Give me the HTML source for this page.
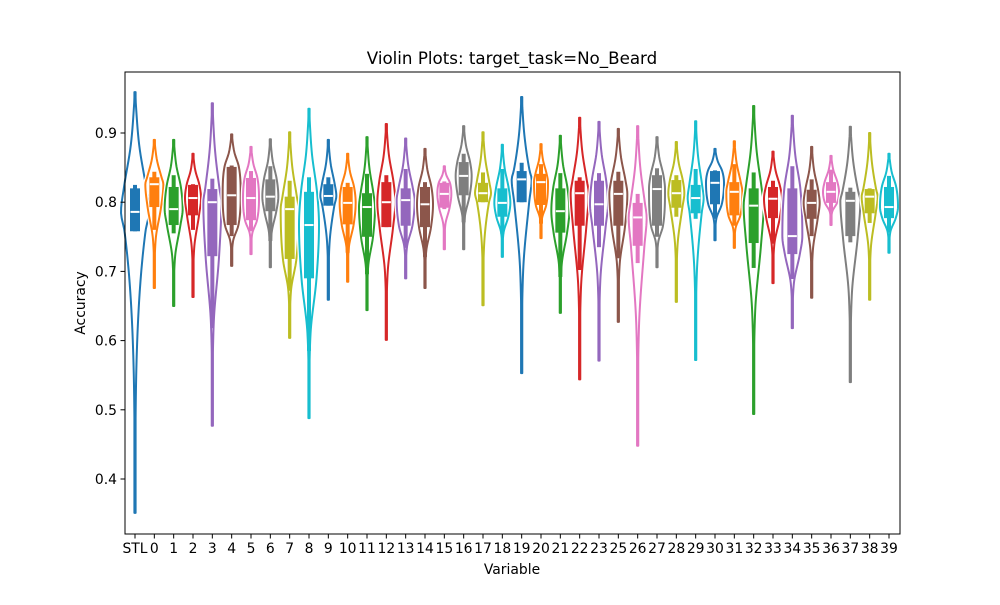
<!DOCTYPE html>
<html><head><meta charset="utf-8"><style>
body{margin:0;background:#fff}
svg text{font-family:"DejaVu Sans","Liberation Sans",sans-serif;fill:#000}
</style></head><body>
<svg id="chart" width="1000" height="600" viewBox="0 0 1000 600" xmlns="http://www.w3.org/2000/svg">
<rect width="1000" height="600" fill="#fff"/>
<text x="512" y="64" font-size="16.7" text-anchor="middle">Violin Plots: target_task=No_Beard</text>
<text x="512" y="574" font-size="13.9" text-anchor="middle">Variable</text>
<text transform="translate(85,303) rotate(-90)" font-size="13.9" text-anchor="middle">Accuracy</text>
<g id="marks"></g>
<rect x="125" y="72" width="775" height="462" fill="none" stroke="#000" stroke-width="1"/>
<g id="axes"></g>
</svg>
<script>
const categories=["STL","0","1","2","3","4","5","6","7","8","9","10","11","12","13","14","15","16","17","18","19","20","21","22","23","25","26","27","28","29","30","31","32","33","34","35","36","37","38","39"];
const maxVals=[0.959,0.89,0.89,0.87,0.943,0.898,0.88,0.891,0.901,0.935,0.89,0.87,0.894,0.913,0.892,0.877,0.852,0.91,0.901,0.883,0.952,0.884,0.896,0.922,0.916,0.906,0.91,0.894,0.887,0.917,0.877,0.888,0.939,0.873,0.925,0.88,0.867,0.909,0.9,0.87];
const minVals=[0.351,0.676,0.65,0.663,0.477,0.708,0.725,0.706,0.604,0.488,0.659,0.685,0.644,0.601,0.69,0.676,0.732,0.732,0.651,0.721,0.553,0.748,0.64,0.544,0.571,0.627,0.448,0.706,0.656,0.572,0.745,0.734,0.494,0.683,0.618,0.662,0.767,0.54,0.659,0.727];
const q3Vals=[0.820,0.836,0.822,0.825,0.819,0.851,0.835,0.833,0.808,0.815,0.826,0.822,0.813,0.829,0.82,0.822,0.828,0.858,0.828,0.82,0.845,0.841,0.82,0.831,0.831,0.831,0.799,0.839,0.832,0.825,0.845,0.829,0.82,0.822,0.82,0.818,0.829,0.815,0.819,0.822];
const medVals=[0.786,0.826,0.79,0.806,0.80,0.81,0.806,0.808,0.79,0.767,0.809,0.799,0.793,0.80,0.803,0.797,0.812,0.838,0.813,0.799,0.833,0.829,0.787,0.813,0.797,0.812,0.778,0.819,0.813,0.806,0.828,0.815,0.795,0.805,0.751,0.799,0.815,0.802,0.808,0.793];
const q1Vals=[0.758,0.793,0.767,0.781,0.722,0.767,0.774,0.787,0.718,0.69,0.795,0.768,0.75,0.764,0.766,0.764,0.792,0.81,0.80,0.779,0.80,0.796,0.756,0.766,0.766,0.766,0.737,0.766,0.792,0.784,0.797,0.781,0.741,0.777,0.725,0.776,0.799,0.751,0.784,0.777];
const whiskHi=[0.825,0.844,0.839,0.826,0.834,0.853,0.845,0.852,0.831,0.836,0.836,0.828,0.841,0.839,0.848,0.829,0.83,0.87,0.843,0.848,0.857,0.855,0.842,0.836,0.842,0.844,0.812,0.849,0.839,0.848,0.846,0.855,0.843,0.831,0.852,0.833,0.847,0.821,0.82,0.838];
const whiskLo=[0.758,0.76,0.755,0.76,0.618,0.751,0.758,0.744,0.672,0.585,0.795,0.727,0.696,0.764,0.734,0.721,0.79,0.771,0.80,0.754,0.80,0.769,0.692,0.702,0.735,0.719,0.712,0.75,0.779,0.776,0.776,0.766,0.705,0.74,0.689,0.751,0.786,0.742,0.77,0.756];
const halfWidths=[14,9,9,8,9,9,8,8,9,10,8,8,8,9,9,8,7,8,8,8,10,7,9,9,9,9,9,8,8,8,9,8,10,9,10,8,8,10,8,9];
const yTicks=[0.4,0.5,0.6,0.7,0.8,0.9];
const colors=["#1f77b4","#ff7f0e","#2ca02c","#d62728","#9467bd","#8c564b","#e377c2","#7f7f7f","#bcbd22","#17becf"];
const NS="http://www.w3.org/2000/svg";
function yS(v){return 133+(0.9-v)*692;}
function xS(i){return 135+i*(889-135)/(categories.length-1);}
function mk(tag,attrs,parent){const e=document.createElementNS(NS,tag);for(const k in attrs)e.setAttribute(k,attrs[k]);parent.appendChild(e);return e;}
function monotone(xs,ys){
  const n=xs.length,d=[],m=new Array(n).fill(0);
  for(let i=0;i<n-1;i++)d.push((ys[i+1]-ys[i])/(xs[i+1]-xs[i]));
  m[0]=d[0];m[n-1]=d[n-2];
  for(let i=1;i<n-1;i++){m[i]=(d[i-1]*d[i]<=0)?0:(d[i-1]+d[i])/2;}
  for(let i=0;i<n-1;i++){if(d[i]===0){m[i]=0;m[i+1]=0;continue;}const a=m[i]/d[i],b=m[i+1]/d[i],s=a*a+b*b;if(s>9){const t=3/Math.sqrt(s);m[i]=t*a*d[i];m[i+1]=t*b*d[i];}}
  return x=>{let i=0;while(i<n-2&&x>xs[i+1])i++;const h=xs[i+1]-xs[i],t=(x-xs[i])/h,t2=t*t,t3=t2*t;
    return (2*t3-3*t2+1)*ys[i]+(t3-2*t2+t)*h*m[i]+(-2*t3+3*t2)*ys[i+1]+(t3-t2)*h*m[i+1];};
}
const marks=document.getElementById('marks'),axes=document.getElementById('axes');
categories.forEach((c,i)=>{
  const col=colors[i%10],cx=xS(i),w=halfWidths[i];
  const mn=minVals[i],mx=maxVals[i],q1=q1Vals[i],q3=q3Vals[i],md=medVals[i];
  const kv=[mn,q1-(q1-mn)*0.4,q1,md,q3,q3+(mx-q3)*0.45,mx];
  const kw=[0,0.15*w,0.75*w,w,0.8*w,0.3*w,0];
  const xs=[],ys=[];
  kv.forEach((v,j)=>{if(!xs.length||v-xs[xs.length-1]>0.002){xs.push(v);ys.push(kw[j]);}});
  const f=monotone(xs,ys);
  const pts=[];const N=80;
  for(let s=0;s<=N;s++){const v=mn+(mx-mn)*s/N;pts.push([v,Math.max(0.6,f(v))]);}
  let d='';pts.forEach((p,j)=>{d+=(j?'L':'M')+(cx+p[1]).toFixed(2)+','+yS(p[0]).toFixed(2);});
  for(let j=pts.length-1;j>=0;j--){d+='L'+(cx-pts[j][1]).toFixed(2)+','+yS(pts[j][0]).toFixed(2);}
  d+='Z';
  const g=mk('g',{},marks);
  
  
  mk('path',{d:d,fill:'none',stroke:'#fff','stroke-width':4.5,'stroke-linejoin':'round'},g);
  const outline=mk('path',{d:d,fill:'none',stroke:col,'stroke-width':2,'stroke-linejoin':'round'},g);
  
  
  const wh=mk('rect',{x:cx-2,y:yS(whiskHi[i]),width:4,height:Math.max(0,yS(whiskLo[i])-yS(whiskHi[i])),fill:col},g);
  
  
  const bx=mk('rect',{x:cx-5,y:yS(q3),width:10,height:yS(q1)-yS(q3),fill:col},g);
  
  
  const ml=mk('line',{x1:cx-4.5,x2:cx+4.5,y1:yS(md),y2:yS(md),stroke:'#fff','stroke-width':2},g);
  
  
  const t=mk('line',{x1:cx,x2:cx,y1:534,y2:538.5,stroke:'#000','stroke-width':1},axes);
  
  
  const lb=mk('text',{x:cx,y:553,'font-size':13.9,'text-anchor':'middle'},axes);
  lb.textContent=c;
  
  
});
yTicks.forEach(v=>{
  const y=yS(v);
  const t=mk('line',{x1:120.5,x2:125,y1:y,y2:y,stroke:'#000','stroke-width':1},axes);
  
  
  const lb=mk('text',{x:117,y:y+5,'font-size':13.9,'text-anchor':'end'},axes);
  lb.textContent=v.toFixed(1);
  
  
});
</script>
</body></html>
